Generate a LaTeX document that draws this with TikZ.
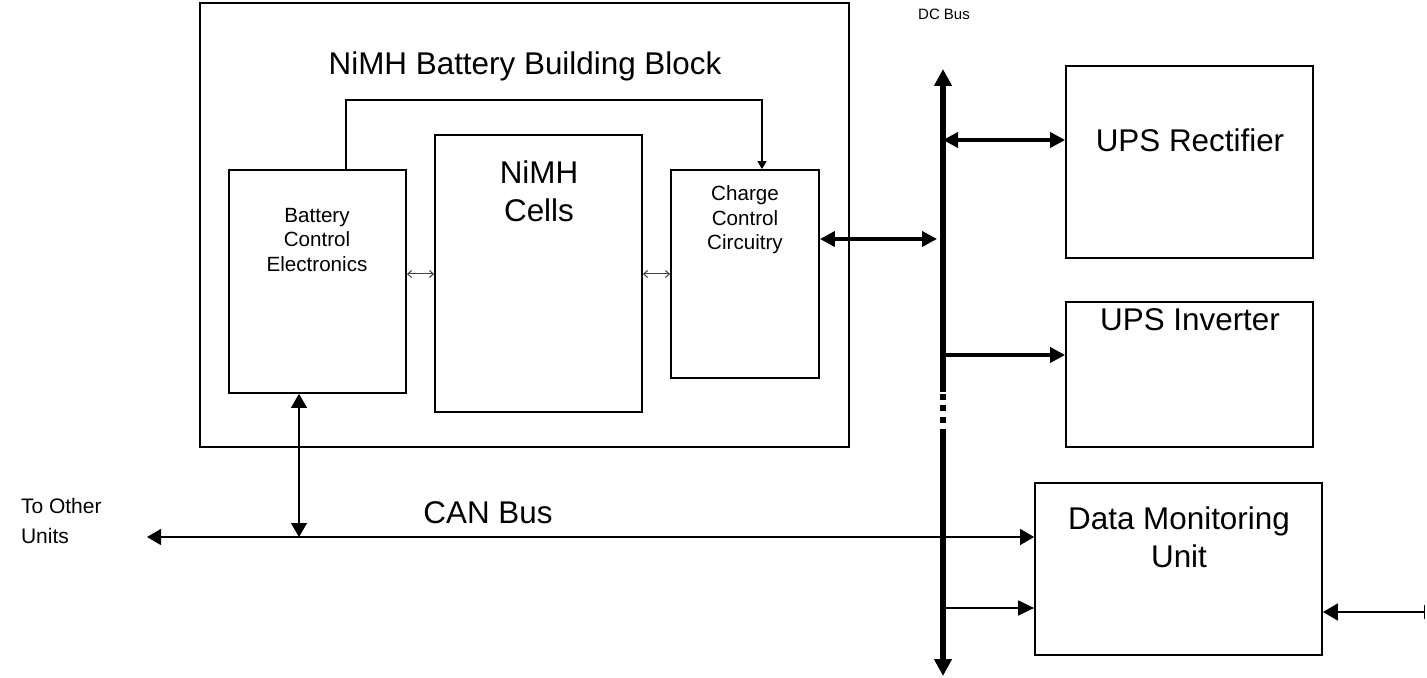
\documentclass[tikz,border=0pt]{standalone}
\usepackage{fontspec}
\setmainfont{Liberation Sans}
\usetikzlibrary{arrows.meta}

\tikzset{
  box/.style={draw, line width=0.9pt, inner sep=0pt},
  bigtxt/.style={font=\fontsize{15.7}{19}\selectfont, align=center},
  midtxt/.style={font=\fontsize{10.3}{12.3}\selectfont, align=center},
  bus/.style={line width=3.2pt},
  pwr/.style={line width=2pt},
  sig/.style={line width=0.7pt},
  tip/.style={-{Triangle[length=7.5pt,width=7.5pt]}},
  dtip/.style={{Triangle[length=7pt,width=8pt]}-{Triangle[length=7pt,width=8pt]}},
  thin/.style={line width=0.5pt, black!75, {Straight Barb[length=2pt,width=3.5pt]}-{Straight Barb[length=2pt,width=3.5pt]}}
}

\begin{document}
\begin{tikzpicture}[x=0.5pt,y=-0.5pt]
\useasboundingbox (0,0) rectangle (1427,678);

% battery building block
\node[box, minimum width=649*0.5pt, minimum height=444*0.5pt] (block) at (524.5,225) {};
\node[bigtxt] (title) at (525,66) {NiMH Battery Building Block};
\node[box, minimum width=177*0.5pt, minimum height=223*0.5pt] (bce) at (317.5,281.5) {};
\node[box, minimum width=207*0.5pt, minimum height=277*0.5pt] (cells) at (538.5,273.5) {};
\node[box, minimum width=148*0.5pt, minimum height=208*0.5pt] (ccc) at (745,274) {};
\node[midtxt] at (317,240) {Battery\\Control\\Electronics};
\node[bigtxt] at (539,191) {NiMH\\Cells};
\node[midtxt] at (745,220) {Charge\\Control\\Circuitry};

% ups side
\node[box, minimum width=247*0.5pt, minimum height=192*0.5pt] (rect) at (1189.5,162) {};
\node[box, minimum width=247*0.5pt, minimum height=145*0.5pt] (inv) at (1189.5,374.5) {};
\node[box, minimum width=287*0.5pt, minimum height=172*0.5pt] (dmu) at (1178.5,569) {};
\node[bigtxt] at (1190,140) {UPS Rectifier};
\node[bigtxt] at (1190,320) {UPS Inverter};
\node[bigtxt] at (1179,537) {Data Monitoring\\Unit};

% labels
\node[font=\fontsize{7.5}{9}\selectfont] (dclbl) at (944,14) {DC Bus};
\node[bigtxt] (canlbl) at (488,513) {CAN Bus};
\node[font=\fontsize{10.5}{15}\selectfont, align=left, anchor=west] (other) at (14,521) {To Other\\Units};

% dc bus
\coordinate (bustop) at (943,69);
\coordinate (busbot) at (943,676);
\draw[bus, -{Triangle[length=8.5pt,width=8.5pt]}] (943,392) -- (bustop);
\draw[bus, -{Triangle[length=8.5pt,width=8.5pt]}] (943,429) -- (busbot);
\foreach \y in {394,405,417}
  \draw[bus] (943,\y) -- (943,\y+5.5);

\coordinate (b1) at (943,140);
\coordinate (b2) at (943,355);
\coordinate (b3) at (937,239);
\coordinate (b4) at (943,608);
\draw[pwr, {Triangle[length=7.5pt,width=7.5pt]}-{Triangle[length=7.5pt,width=7.5pt]}] (b1) -- (b1 -| rect.west);
\draw[pwr, tip] (b2) -- (b2 -| inv.west);
\draw[pwr, {Triangle[length=7.5pt,width=7.5pt]}-{Triangle[length=7.5pt,width=7.5pt]}] (b3 -| ccc.east) -- (b3);
\draw[sig, -{Triangle[length=8pt,width=7.5pt]}] (b4) -- (b4 -| dmu.west);

% inside the block
\coordinate (mid) at (0,274);
\draw[thin] (bce.east |- mid) -- (cells.west |- mid);
\draw[thin] (cells.east |- mid) -- (ccc.west |- mid);
\coordinate (fbL) at (346,100);
\coordinate (fbR) at (762,100);
\draw[sig, -{Triangle[length=4pt,width=4.5pt]}] (fbL |- bce.north) -- (fbL) -- (fbR) -- (fbR |- ccc.north);

% can bus
\coordinate (canL) at (147,537);
\coordinate (canJ) at (299,537);
\draw[sig, dtip] (canL) -- (canL -| dmu.west);
\draw[sig, dtip] (canJ |- bce.south) -- (canJ);

% external link
\coordinate (ext) at (1425,612);
\draw[sig, {Triangle[length=7.5pt,width=8.5pt]}-{Bar[width=7pt]}] (ext -| dmu.east) -- (ext);
\end{tikzpicture}
\end{document}
